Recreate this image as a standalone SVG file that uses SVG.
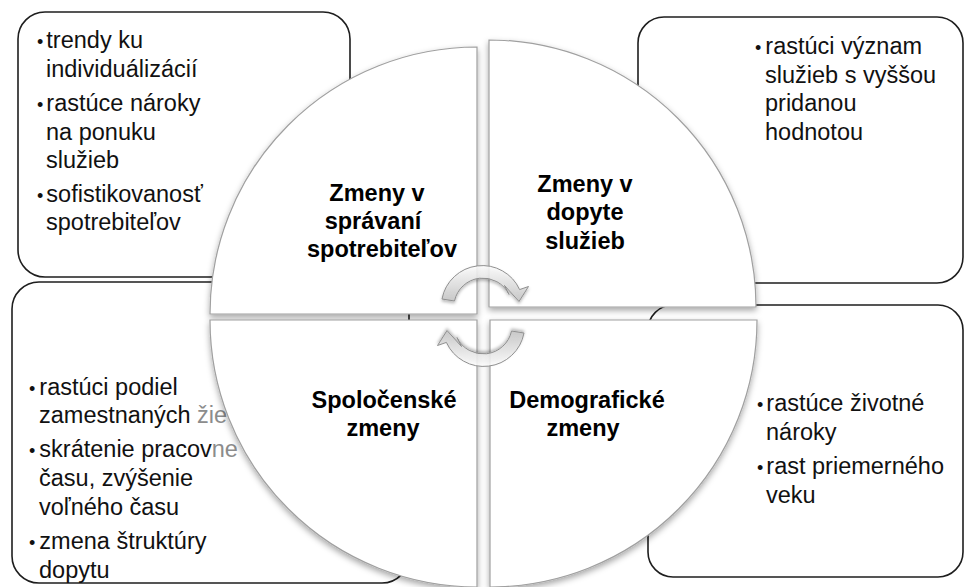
<svg xmlns="http://www.w3.org/2000/svg" width="965" height="587" viewBox="0 0 965 587">
<defs>
<style>
.box{fill:#fff;stroke:#1e1e1e;stroke-width:1.6}
.q{fill:#fff;stroke:#a0a0a0;stroke-width:1.2}
.t{font-family:"Liberation Sans",Arial,sans-serif;font-size:23.5px;fill:#111}
.b{font-size:18px}
.lbl{font-family:"Liberation Sans",Arial,sans-serif;font-size:23.5px;font-weight:bold;fill:#000;text-anchor:middle}
.fade{fill:#8c8c8c}
.arr{fill:url(#ag);fill-opacity:0.85;stroke:#8f8f8f;stroke-width:1}
</style>
<filter id="sh" x="-10%" y="-10%" width="120%" height="125%">
<feDropShadow dx="0" dy="3" stdDeviation="3" flood-color="#000" flood-opacity="0.35"/>
</filter>
<filter id="ash" x="-20%" y="-20%" width="140%" height="140%">
<feDropShadow dx="0" dy="2" stdDeviation="1.5" flood-color="#000" flood-opacity="0.3"/>
</filter>
<linearGradient id="ag" x1="0" y1="0" x2="0" y2="1">
<stop offset="0" stop-color="#ffffff"/>
<stop offset="1" stop-color="#c4c4c4"/>
</linearGradient>
<path id="cyc" d="M442,299 A41,41 0 0 1 519.6,289.6 L528.5,286.5 L519,301.5 L504.5,285.5 L509,294.5 A29,29 0 0 0 454.5,301 Z"/>
</defs>

<g id="box-top-left">
<rect class="box" x="18" y="12" width="332" height="265" rx="27"/>
<text class="t" x="37" y="48"><tspan class="b">•</tspan><tspan dx="3">trendy ku</tspan></text>
<text class="t" x="46" y="77">individuálizácií</text>
<text class="t" x="37" y="111"><tspan class="b">•</tspan><tspan dx="3">rastúce nároky</tspan></text>
<text class="t" x="46" y="140">na ponuku</text>
<text class="t" x="46" y="168">služieb</text>
<text class="t" x="37" y="202"><tspan class="b">•</tspan><tspan dx="3">sofistikovanosť</tspan></text>
<text class="t" x="46" y="230">spotrebiteľov</text>
</g>

<g id="box-top-right">
<rect class="box" x="638" y="17" width="325" height="266" rx="26"/>
<text class="t" x="755" y="54"><tspan class="b">•</tspan><tspan dx="4">rastúci význam</tspan></text>
<text class="t" x="765" y="83">služieb s vyššou</text>
<text class="t" x="765" y="111">pridanou</text>
<text class="t" x="765" y="140">hodnotou</text>
</g>

<g id="box-bottom-left">
<rect class="box" x="12" y="282" width="397" height="301" rx="27"/>
<text class="t" x="29" y="395"><tspan class="b">•</tspan><tspan dx="4">rastúci podiel</tspan></text>
<text class="t" x="39" y="423">zamestnaných <tspan class="fade">žie</tspan></text>
<text class="t" x="29" y="457"><tspan class="b">•</tspan><tspan dx="4">skrátenie pracov</tspan><tspan class="fade">ne</tspan></text>
<text class="t" x="39" y="486">času, zvýšenie</text>
<text class="t" x="39" y="515">voľného času</text>
<text class="t" x="29" y="549"><tspan class="b">•</tspan><tspan dx="4">zmena štruktúry</tspan></text>
<text class="t" x="39" y="578">dopytu</text>
</g>

<g id="box-bottom-right">
<rect class="box" x="648" y="305" width="315" height="272" rx="25"/>
<text class="t" x="757" y="411"><tspan class="b">•</tspan><tspan dx="3">rastúce životné</tspan></text>
<text class="t" x="766" y="440">nároky</text>
<text class="t" x="757" y="474"><tspan class="b">•</tspan><tspan dx="3">rast priemerného</tspan></text>
<text class="t" x="766" y="503">veku</text>
</g>

<g id="quadrant-top-left">
<path class="q" filter="url(#sh)" d="M477,314 L210,314 A267,267 0 0 1 477,47 Z"/>
<text class="lbl" x="377" y="201">Zmeny v</text>
<text class="lbl" x="373" y="229">správaní</text>
<text class="lbl" x="382" y="257">spotrebiteľov</text>
</g>

<g id="quadrant-top-right">
<path class="q" filter="url(#sh)" d="M489,307 L489,40 A267,267 0 0 1 756,307 Z"/>
<text class="lbl" x="585" y="192">Zmeny v</text>
<text class="lbl" x="585" y="220">dopyte</text>
<text class="lbl" x="585" y="249">služieb</text>
</g>

<g id="quadrant-bottom-left">
<path class="q" filter="url(#sh)" d="M477,320 L477,587 A267,267 0 0 1 210,320 Z"/>
<text class="lbl" x="384" y="408">Spoločenské</text>
<text class="lbl" x="383" y="436">zmeny</text>
</g>

<g id="quadrant-bottom-right">
<path class="q" filter="url(#sh)" d="M490,320 L757,320 A267,267 0 0 1 490,587 Z"/>
<text class="lbl" x="587" y="408">Demografické</text>
<text class="lbl" x="583" y="436">zmeny</text>
</g>

<g id="connectors">
<use href="#cyc" class="arr" filter="url(#ash)"/>
<use href="#cyc" class="arr" filter="url(#ash)" transform="rotate(180 483 316)"/>
</g>
</svg>
